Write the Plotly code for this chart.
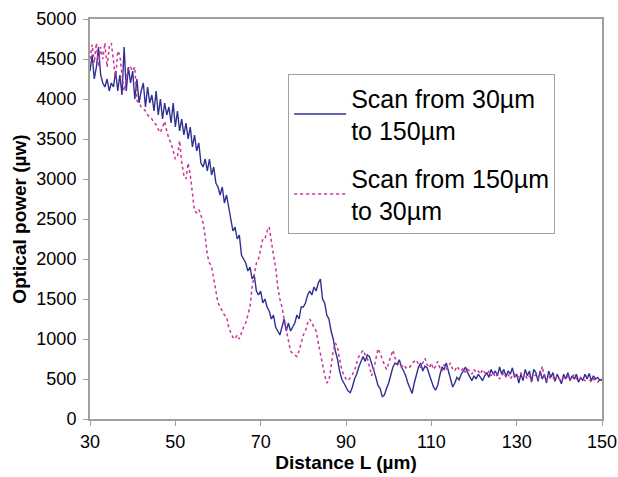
import plotly.graph_objects as go

x_start = 30.0
x_step = 0.5

scan_fwd = [
    4350, 4550, 4250, 4400, 4650, 4300, 4200, 4150, 4250, 4100,
    4200, 4150, 4350, 4100, 4300, 4050, 4650, 4100, 4400, 4200,
    4350, 4000, 4250, 3950, 4100, 4200, 3900, 4150, 3950, 4050,
    3850, 4100, 3800, 4000, 3750, 3950, 3800, 3900, 3700, 3950,
    3650, 3850, 3600, 3750, 3550, 3700, 3500, 3650, 3400, 3550,
    3350, 3450, 3200, 3150, 3250, 3100, 3250, 3050, 3150, 2950,
    2900, 2800, 2900, 2700, 2800, 2650, 2500, 2350, 2400, 2250,
    2300, 2050, 2000, 1950, 1850, 1900, 1750, 1800, 1600, 1550,
    1600, 1450, 1500, 1400, 1350, 1250, 1300, 1150, 1100, 1050,
    1150, 1250, 1100, 1200, 1100, 1150, 1200, 1300, 1250, 1400,
    1400, 1450, 1550, 1600, 1550, 1650, 1600, 1700, 1750, 1500,
    1450, 1300, 1250, 1100, 1000, 850, 750, 600, 500, 450,
    400, 350, 330, 400, 500, 560, 650, 720, 780, 720,
    800, 780, 700, 620, 520, 420, 380, 280, 300, 380,
    450, 550, 650, 700, 680, 740, 650, 600, 540, 450,
    380, 320, 450, 570, 650, 700, 600, 660, 640, 560,
    480, 400, 360, 420, 550, 650, 620, 700, 600, 480,
    400, 450, 520, 490, 560, 600, 650, 580, 520, 480,
    540, 500, 560, 520, 480, 540, 580, 520, 620, 560,
    600, 540, 650, 560, 620, 530, 600, 560, 640, 520,
    560, 450, 560, 480, 620, 540, 600, 460, 620, 580,
    470, 600, 500, 560, 450, 600, 520, 580, 470, 560,
    500, 440, 560, 500, 580, 480, 540, 500, 560, 460,
    520, 480, 560, 500, 570, 480, 540, 500, 520, 480,
    500,
]

scan_rev = [
    4500, 4680, 4450, 4700, 4400, 4650, 4500, 4700, 4400, 4650,
    4700, 4450, 4250, 4600, 4550, 4300, 4100, 4250, 4400, 4400,
    4350, 4400, 3980, 3950, 3900, 3880, 3850, 3800, 3780, 3750,
    3700, 3680, 3620, 3580, 3650, 3720, 3600, 3500, 3450, 3350,
    3250, 3280, 3480, 3200, 3050, 3000, 3200, 3050, 2850, 2600,
    2580, 2620, 2550, 2450, 2280, 2050, 1950, 1900, 1750, 1600,
    1450, 1400, 1350, 1300, 1280, 1150, 1080, 1020, 1000, 1050,
    1000, 1080, 1150, 1200, 1300, 1400, 1650, 1800, 1950, 2000,
    2150, 2250, 2250, 2350, 2400, 2200, 2050, 1900, 1650, 1500,
    1400, 1250, 1100, 950, 850, 820, 800, 780, 850, 950,
    1050, 1100, 1200, 1250, 1200, 1150, 1100, 950, 800, 650,
    550, 450, 480, 650, 850, 950, 900, 750, 620, 550,
    500, 480, 520, 560, 600, 700, 780, 820, 860, 800,
    760, 650, 540, 620, 740, 880, 820, 740, 680, 620,
    700, 800, 860, 760, 720, 660, 650, 680, 640, 660,
    650, 700, 720, 740, 680, 640, 700, 760, 680, 640,
    700, 620, 660, 720, 640, 600, 680, 620, 660, 700,
    620, 600, 660, 620, 600, 640, 580, 620, 600, 560,
    620, 580, 600, 560, 620, 580, 560, 600, 540, 580,
    520, 560, 500, 540, 580, 520, 560, 500, 540, 560,
    500, 540, 580, 520, 560, 500, 540, 480, 520, 560,
    500, 540, 660, 520, 480, 540, 500, 520, 480, 540,
    500, 480, 520, 500, 540, 480, 520, 560, 500, 480,
    520, 500, 480, 540, 500, 460, 500, 480, 460, 500,
    480,
]

x_fwd = [x_start + i * x_step for i in range(len(scan_fwd))]
x_rev = [x_start + i * x_step for i in range(len(scan_rev))]

names = ["Scan from 30µm<br>to 150µm", "Scan from 150µm<br>to 30µm"]
x_ticks = [30, 50, 70, 90, 110, 130, 150]
y_ticks = list(range(0, 5001, 500))

fig = go.Figure()
fig.add_trace(go.Scatter(x=x_fwd, y=scan_fwd, mode="lines", name=names[0],
                         legendgroup="a",
                         line=dict(color="#2E3192", width=1.4)))
fig.add_trace(go.Scatter(x=x_rev, y=scan_rev, mode="lines", name=names[1],
                         legendgroup="b",
                         line=dict(color="#CC3399", width=1.5, dash="dot")))

font_family = "Arial, Liberation Sans, sans-serif"
fig.update_layout(
    width=618, height=477,
    margin=dict(l=90, r=16, t=19, b=58),
    paper_bgcolor="white", plot_bgcolor="white",
    font=dict(family=font_family, size=18, color="black"),
    showlegend=True,
    legend=dict(x=0.387, y=0.8625, xanchor="left", yanchor="top",
                bordercolor="#A0A0A0", borderwidth=1, bgcolor="white",
                font=dict(size=25, family=font_family, color="black"),
                traceorder="grouped", tracegroupgap=12, itemwidth=52),
    xaxis=dict(range=[30, 150], tickvals=x_ticks, showgrid=False, zeroline=False,
               showline=True, linecolor="#A0A0A0", linewidth=2, mirror=True,
               ticks="outside", ticklen=5, tickcolor="#A0A0A0",
               tickfont=dict(size=18), automargin=False,
               title=dict(text="<b>Distance L (µm)</b>", font=dict(size=19), standoff=0)),
    yaxis=dict(range=[0, 5000], tickvals=y_ticks, showgrid=False, zeroline=False,
               showline=True, linecolor="#A0A0A0", linewidth=2, mirror=True,
               ticks="outside", ticklen=5, tickcolor="#A0A0A0",
               tickfont=dict(size=18), automargin=False, ticklabelstandoff=3,
               title=dict(text="<b>Optical power (µw)</b>", font=dict(size=19), standoff=5)),
)

fig.write_html("out.html",
               config={"displayModeBar": False},
               post_script="document.body.style.margin='0';document.body.style.overflow='hidden';")
